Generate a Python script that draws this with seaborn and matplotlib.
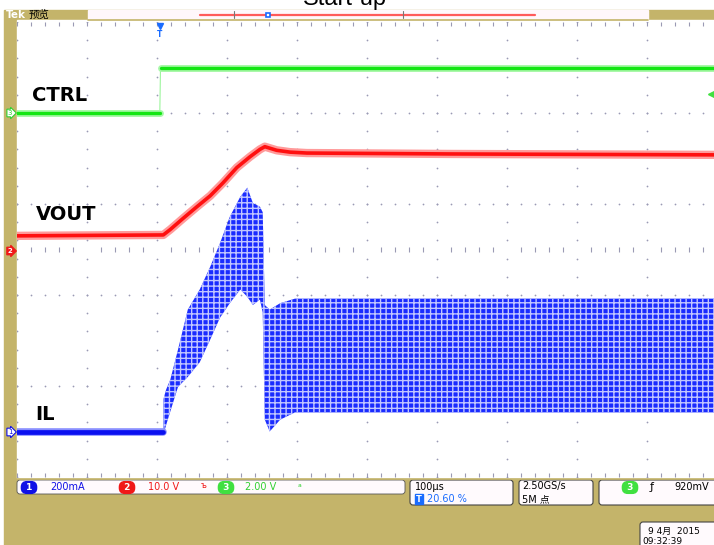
import numpy as np
import pandas as pd
import seaborn as sns
import matplotlib.pyplot as plt
from matplotlib.patches import Rectangle, FancyBboxPatch

sns.set_theme(style="white")
plt.rcParams['font.family'] = ['DejaVu Sans', 'Noto Sans CJK SC']
plt.rcParams['hatch.linewidth'] = 1.0

# time in µs from left edge of screen (100 µs/div), level in screen divisions
ctrl_t = [0, 204, 205, 996]
ctrl_v = [4.00, 4.00, 4.49, 4.49]

vout_t = [0, 209, 219, 237, 257, 276, 294, 314, 333, 347, 354, 371, 390, 414, 619, 996]
vout_v = [2.65, 2.66, 2.72, 2.84, 2.97, 3.09, 3.23, 3.40, 3.52, 3.60, 3.63, 3.59, 3.57, 3.56, 3.55, 3.54]

il_t = [0, 209]
il_v = [0.50, 0.50]

# switching ripple of IL: upper / lower envelope
rip_t = [209, 213, 219, 230, 244, 261, 276, 290, 304, 319, 329, 337, 347, 351, 354, 361, 376, 397, 996]
rip_hi = [0.85, 0.96, 1.07, 1.40, 1.84, 2.06, 2.31, 2.57, 2.86, 3.08, 3.18, 3.01, 2.97, 2.91, 1.89, 1.84, 1.91, 1.96, 1.96]
rip_lo = [0.46, 0.57, 0.72, 0.99, 1.10, 1.26, 1.51, 1.75, 1.91, 2.06, 1.98, 1.89, 1.95, 1.81, 0.63, 0.50, 0.63, 0.71, 0.71]

labels = ["CTRL", "VOUT", "IL"]

GOLD = "#c4b46a"
DOT = "#9a9ab4"

fig = plt.figure(figsize=(7.14, 5.45), dpi=100)

# screen furniture (pixel coords)
bg = fig.add_axes([0, 0, 1, 1])
bg.set_xlim(0, 714)
bg.set_ylim(545, 0)
bg.axis('off')
bg.add_patch(Rectangle((4, 10), 710, 535, color=GOLD, zorder=0))
bg.add_patch(Rectangle((17, 20), 697, 458, color="white", zorder=1))
bg.add_patch(Rectangle((88, 10), 560, 9, color="#fff7fb", zorder=1))
bg.plot([200, 535], [14.5, 14.5], color="#ff5a5a", lw=1.6, zorder=2)
bg.plot([234, 234], [11, 18], color="#777777", lw=0.8, zorder=3)
bg.plot([403, 403], [11, 18], color="#777777", lw=0.8, zorder=3)
bg.plot([268], [14.5], marker='s', ms=3.5, mfc="white", mec="#1a6cff", mew=1.2, zorder=3)
bg.text(6, 15, "Tek", color="white", fontsize=7.5, fontweight="bold", va="center", zorder=3)
bg.text(29, 15, "预览", color="black", fontsize=7.5, va="center", zorder=3)
bg.text(345, 5, "Start-up", color="black", fontsize=17, family="Liberation Sans",
        ha="center", va="baseline", zorder=5)

# bottom readout strip
bg.add_patch(FancyBboxPatch((17, 480), 388, 14, boxstyle="round,pad=0,rounding_size=3",
                            fc="#fffafd", ec="#555555", lw=0.6, zorder=2))
for x0, w in [(410, 103), (519, 74), (599, 120)]:
    bg.add_patch(FancyBboxPatch((x0, 480), w, 25, boxstyle="round,pad=0,rounding_size=3",
                                fc="#fffafd", ec="#444444", lw=0.8, zorder=2))
bg.add_patch(FancyBboxPatch((640, 522), 80, 30, boxstyle="round,pad=0,rounding_size=3",
                            fc="#fffafd", ec="#444444", lw=0.8, zorder=2))

def badge(x, y, s, fc, tc="white"):
    bg.text(x, y, s, color=tc, fontsize=6.5, fontweight="bold", ha="center", va="center",
            bbox=dict(boxstyle="round,pad=0.15,rounding_size=0.6", fc=fc, ec=fc), zorder=4)

badge(29, 487.5, " 1 ", "#1010e6")
bg.text(50, 487.5, "200mA", color="#1010e6", fontsize=7, va="center", zorder=4)
badge(127, 487.5, " 2 ", "#f01818")
bg.text(148, 487.5, "10.0 V", color="#f01818", fontsize=7, va="center", zorder=4)
bg.text(201, 486, "ъ", color="#f01818", fontsize=6, va="center", zorder=4)
badge(226, 487.5, " 3 ", "#40e040")
bg.text(245, 487.5, "2.00 V", color="#30d030", fontsize=7, va="center", zorder=4)
bg.text(298, 488, "ᵃ", color="#30d030", fontsize=7, va="center", zorder=4)
bg.text(415, 486.5, "100µs", color="black", fontsize=7, va="center", zorder=4)
bg.text(419, 499, "T", color="white", fontsize=6, fontweight="bold", ha="center", va="center",
        bbox=dict(boxstyle="square,pad=0.1", fc="#1a6cff", ec="#1a6cff"), zorder=4)
bg.text(427, 499, "20.60 %", color="#1a6cff", fontsize=7, va="center", zorder=4)
bg.text(522, 486.5, "2.50GS/s", color="black", fontsize=7, va="center", zorder=4)
bg.text(522, 499, "5M 点", color="black", fontsize=7, va="center", zorder=4)
badge(630, 487.5, " 3 ", "#40e040")
bg.text(650, 487.5, "ƒ", color="black", fontsize=8, va="center", zorder=4)
bg.text(674, 487.5, "920mV", color="black", fontsize=7, va="center", zorder=4)
bg.text(648, 531, "9 4月  2015", color="black", fontsize=6.5, va="center", zorder=4)
bg.text(642, 541, "09:32:39", color="black", fontsize=6.5, va="center", zorder=4)
bg.plot([17, 714], [478.5, 478.5], color=GOLD, lw=1.2, zorder=3)
bg.plot([88, 648], [19.5, 19.5], color=GOLD, lw=1.2, zorder=3)

# channel ground markers on the left strip
bg.text(10, 113, "3", color="#30d030", fontsize=5, ha="center", va="center",
        bbox=dict(boxstyle="rarrow,pad=0.12", fc="white", ec="#30d030", lw=0.8), zorder=4)
bg.text(10, 251, "2", color="white", fontsize=5, fontweight="bold", ha="center", va="center",
        bbox=dict(boxstyle="rarrow,pad=0.12", fc="#f01818", ec="#f01818", lw=0.8), zorder=4)
bg.text(10, 432, "1", color="#1010e6", fontsize=5, ha="center", va="center",
        bbox=dict(boxstyle="rarrow,pad=0.12", fc="white", ec="#1010e6", lw=0.8), zorder=4)
bg.plot([711], [94], marker='<', ms=5, color="#40e040", zorder=4)

# graticule + traces
ax = fig.add_axes([17 / 714, 68 / 545, 697 / 714, 455 / 545])
ax.set_xlim(0, 697 / 0.7)
ax.set_ylim(0, 5)
ax.axis('off')
ax.patch.set_visible(False)

gx = np.arange(0, 1000, 100)
gy = np.arange(0, 5.01, 0.2)
X, Y = np.meshgrid(gx, gy)
ax.scatter(X.ravel(), Y.ravel(), s=1.6, color=DOT, lw=0, zorder=1)
hx = np.arange(0, 1000, 20)
hy = np.arange(1, 5, 1)
X, Y = np.meshgrid(hx, hy)
ax.scatter(X.ravel(), Y.ravel(), s=1.6, color=DOT, lw=0, zorder=1)
tx = hx[hx % 100 != 0]
ax.vlines(tx, 2.47, 2.53, color=DOT, lw=0.8, zorder=1)
ax.vlines(hx, 4.96, 5.0, color=DOT, lw=0.8, zorder=1, clip_on=False)
ax.vlines(hx, 0.0, 0.04, color=DOT, lw=0.8, zorder=1, clip_on=False)
ax.plot([204], [4.96], marker='v', ms=5, color="#1a6cff", clip_on=False, zorder=6)
ax.text(204, 4.86, "T", color="#1a6cff", fontsize=5.5, fontweight="bold", ha="center", va="center", zorder=6)

ctrl = pd.DataFrame({"t": ctrl_t, "v": ctrl_v})
vout = pd.DataFrame({"t": vout_t, "v": vout_v})
il = pd.DataFrame({"t": il_t, "v": il_v})

# CTRL: thin faint edge, thick plateaus
sns.lineplot(data=ctrl, x="t", y="v", ax=ax, color="#9cf59c", lw=0.8, sort=False, zorder=3)
for lo_i in range(len(ctrl_t) - 1):
    if ctrl_v[lo_i] == ctrl_v[lo_i + 1]:
        seg = ctrl.iloc[lo_i:lo_i + 2]
        sns.lineplot(data=seg, x="t", y="v", ax=ax, color="#a8f8a8", lw=5, zorder=3)
        sns.lineplot(data=seg, x="t", y="v", ax=ax, color="#14e614", lw=2.4, zorder=4)

sns.lineplot(data=vout, x="t", y="v", ax=ax, color="#ff9a9a", lw=6, zorder=3)
sns.lineplot(data=vout, x="t", y="v", ax=ax, color="#ff1010", lw=2.6, zorder=4)

ax.fill_between(rip_t, rip_lo, rip_hi, facecolor="#1a2cff", edgecolor="#c2c7ff",
                hatch="+++", lw=0, zorder=3)
sns.lineplot(data=il, x="t", y="v", ax=ax, color="#8a90ff", lw=5.5, zorder=3)
sns.lineplot(data=il, x="t", y="v", ax=ax, color="#0a10f0", lw=3.4, zorder=4)

label_pos = [(22, 4.19), (27, 2.88), (26, 0.69)]
for name, (x, y) in zip(labels, label_pos):
    ax.text(x, y, name, color="black", fontsize=14, fontweight="bold", va="center", zorder=6)

fig.savefig("out.png", dpi=100)
